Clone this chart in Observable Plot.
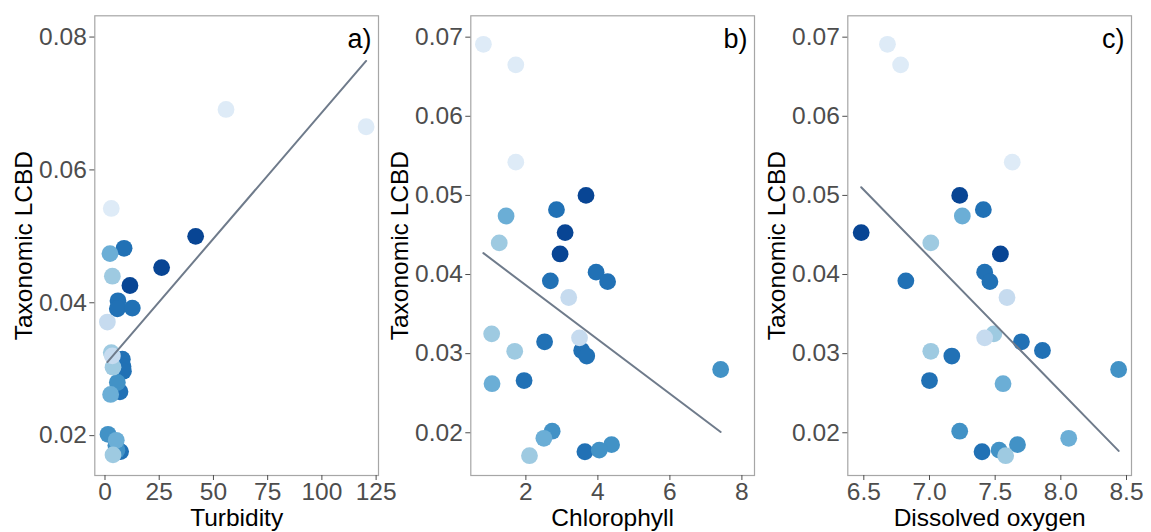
<!DOCTYPE html>
<html><head><meta charset="utf-8">
<script src="https://cdn.jsdelivr.net/npm/d3@7"></script>
<script src="https://cdn.jsdelivr.net/npm/@observablehq/plot@0.6"></script>
<style>
html,body{margin:0;padding:0;background:#fff;overflow:hidden;}
#chart{position:relative;width:1151px;height:532px;overflow:hidden;}
</style></head><body><div id="chart"></div>
<script>
// ---- data (one entry per site) ----
const lcbd = [0.0691,0.0665,0.0542,0.0500,0.0482,0.0474,0.0453,0.0440,0.0426,0.0403,0.0391,0.0392,0.0371,0.0325,0.0320,0.0315,0.0303,0.0304,0.0297,0.0280,0.0266,0.0262,0.0202,0.0193,0.0185,0.0178,0.0176,0.0171];
const turbidity = [55.8,120.4,2.9,41.8,8.8,2.3,26.1,3.4,11.5,6.0,5.7,12.6,1.1,2.9,3.4,8.0,3.7,8.3,8.5,5.7,6.9,2.6,1.4,5.2,5.0,5.5,7.2,3.7];
const chlorophyll = [0.82,1.72,1.72,3.67,2.85,1.45,3.09,1.26,2.95,3.95,4.27,2.68,3.19,1.05,3.49,2.52,1.69,3.55,3.69,7.41,1.95,1.06,2.73,2.50,4.38,4.04,3.64,2.10];
const oxygen = [6.68,6.78,7.63,7.23,7.41,7.25,6.48,7.01,7.54,7.42,7.46,6.82,7.59,7.49,7.42,7.70,7.01,7.86,7.17,8.44,7.00,7.56,7.23,8.06,7.67,7.53,7.40,7.58];
const shade = [1,1,1,7,6,4,7,3,7,6,6,6,2,3,2,6,3,6,6,5,6,4,5,4,5,5,6,3];
const shadeLevels = [1,2,3,4,5,6,7];
const blues = ["#deebf7","#c6dbef","#9ecae1","#6baed6","#4292c6","#2171b5","#084594"];
// fitted linear models
const fitIntercept = [0.03066, 0.04552, 0.16123];
const fitSlope = [0.00037992, -0.003431, -0.017005];
// tick labels
const ticksTurbidity = [0,25,50,75,100,125];
const ticksChlorophyll = [2,4,6,8];
const ticksOxygen = [6.5,7.0,7.5,8.0,8.5];
const ticksLcbdA = [0.02,0.04,0.06,0.08];
const ticksLcbdBC = [0.02,0.03,0.04,0.05,0.06,0.07];
const panelTags = ["a)","b)","c)"];
const xTitles = ["Turbidity","Chlorophyll","Dissolved oxygen"];
const yTitle = "Taxonomic LCBD";

const panels = [
  {x: turbidity, xDomain: [-4.7, 126.1], xTicks: ticksTurbidity, xFormat: d3.format("d"), yDomain: [0.0140, 0.0832], yTicks: ticksLcbdA},
  {x: chlorophyll, xDomain: [0.47, 8.35], xTicks: ticksChlorophyll, xFormat: d3.format("d"), yDomain: [0.0146, 0.0727], yTicks: ticksLcbdBC},
  {x: oxygen, xDomain: [6.378, 8.538], xTicks: ticksOxygen, xFormat: d3.format(".1f"), yDomain: [0.0146, 0.0727], yTicks: ticksLcbdBC}
];

const font = "'Liberation Sans', Arial, Helvetica, sans-serif";
const slot = 376.3;
const chart = document.getElementById("chart");

panels.forEach((p, i) => {
  const rows = d3.sort(lcbd.map((y, j) => ({x: p.x[j], y, shade: shade[j]})), d => -d.shade);
  const ends = d3.extent(p.x).map(x => ({x, y: fitIntercept[i] + fitSlope[i] * x}));
  const svg = Plot.plot({
    width: 400,
    height: 532,
    marginLeft: 94.3,
    marginRight: 400 - 94.3 - 283.7,
    marginTop: 15.3,
    marginBottom: 57,
    style: {fontFamily: font, background: "transparent", overflow: "visible"},
    x: {domain: p.xDomain},
    y: {domain: p.yDomain},
    color: {type: "ordinal", domain: shadeLevels, range: blues},
    marks: [
      Plot.dot(rows, {x: "x", y: "y", r: 8.4, fill: d => d.shade, stroke: null}),
      Plot.line(ends, {x: "x", y: "y", stroke: "#6f7b8b", strokeWidth: 2}),
      Plot.frame({stroke: "#a6a6a6", strokeWidth: 1.2}),
      Plot.axisY({ticks: p.yTicks, tickFormat: d3.format(".2f"), tickSize: 5, tickPadding: 3, fontSize: 24.5, fill: "#4d4d4d", stroke: "#4d4d4d", label: null}),
      Plot.axisX({ticks: p.xTicks, tickFormat: p.xFormat, tickSize: 5, tickPadding: 2, fontSize: 24.5, fill: "#4d4d4d", stroke: "#4d4d4d", label: null}),
      Plot.text([xTitles[i]], {frameAnchor: "bottom", textAnchor: "middle", dy: 50, fontSize: 24.5, fill: "black"}),
      Plot.text([yTitle], {frameAnchor: "left", textAnchor: "middle", rotate: -90, dx: -71, fontSize: 24.5, fill: "black"}),
      Plot.text([panelTags[i]], {frameAnchor: "top-right", textAnchor: "end", lineAnchor: "top", dx: -7, dy: 13, fontSize: 27, fill: "black"})
    ]
  });
  svg.style.position = "absolute";
  svg.style.left = (i * slot) + "px";
  svg.style.top = "0px";
  svg.style.maxWidth = "none";
  chart.appendChild(svg);
});
</script></body></html>
